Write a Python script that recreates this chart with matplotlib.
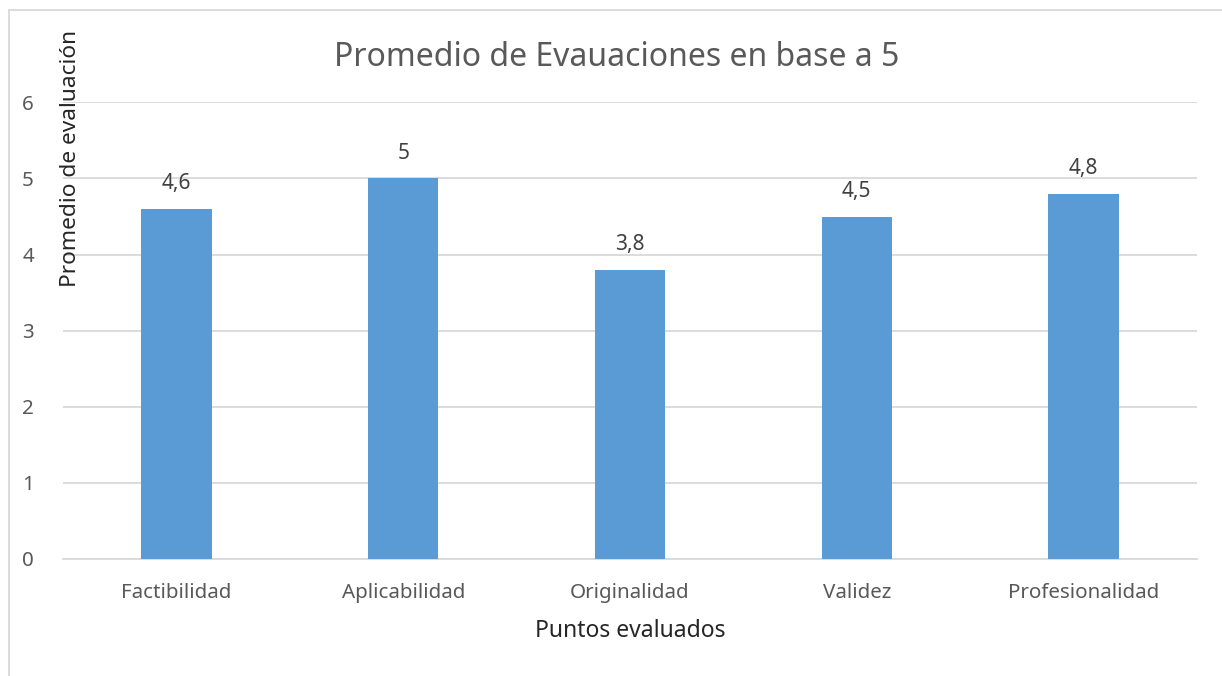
import matplotlib.pyplot as plt
from matplotlib.lines import Line2D

# Values
categories = ['Factibilidad', 'Aplicabilidad', 'Originalidad', 'Validez', 'Profesionalidad']
scores = [4.6, 5, 3.8, 4.5, 4.8]
score_labels = ['4,6', '5', '3,8', '4,5', '4,8']
yticks = [0, 1, 2, 3, 4, 5, 6]

plt.rcParams['font.family'] = ['Noto Sans', 'DejaVu Sans']
text_color = '#595959'
grid_color = '#d9d9d9'

W, H = 1222, 676
fig = plt.figure(figsize=(W / 100, H / 100), dpi=100, facecolor='white')
ax = fig.add_axes([63 / W, 1 - 559 / H, (1197 - 63) / W, (559 - 102.4) / H])

x = range(len(categories))
ax.bar(x, scores, width=0.31, color='#5b9bd5', zorder=3)

# data labels above the bars
for xi, v, lab in zip(x, scores, score_labels):
    ax.annotate(lab, (xi, v), xytext=(0, 25), textcoords='offset pixels',
                ha='center', va='center', fontsize=15, color='#404040')

ax.set_xlim(-0.5, len(categories) - 0.5)
ax.set_ylim(0, 6)
ax.set_yticks(yticks)
ax.set_xticks(list(x))
ax.set_xticklabels(categories)
ax.tick_params(axis='both', length=0, labelsize=14.8, colors=text_color)
ax.tick_params(axis='y', pad=21)
ax.tick_params(axis='x', pad=17)
ax.grid(axis='y', color=grid_color, linewidth=1.3, zorder=0)
for s in ['top', 'right', 'left']:
    ax.spines[s].set_visible(False)
ax.spines['bottom'].set_color(grid_color)
ax.spines['bottom'].set_linewidth(1.3)

fig.text(617 / W, 1 - 58 / H, 'Promedio de Evauaciones en base a 5',
         ha='center', va='center', fontsize=23, color=text_color)
fig.text(630 / W, 1 - 631 / H, 'Puntos evaluados',
         ha='center', va='center', fontsize=16.5, color='#262626')
fig.text(70 / W, 1 - 158 / H, 'Promedio de evaluación', rotation=90,
         ha='center', va='center', fontsize=16.3, color='#262626')

# chart area border (only top and left are visible in the crop)
fig.add_artist(Line2D([8.5 / W, 8.5 / W], [0, 1 - 9.5 / H], transform=fig.transFigure,
                      color=grid_color, linewidth=1.3))
fig.add_artist(Line2D([8.5 / W, 1], [1 - 9.5 / H, 1 - 9.5 / H], transform=fig.transFigure,
                      color=grid_color, linewidth=1.3))

fig.savefig('out.png', dpi=100, facecolor='white')
